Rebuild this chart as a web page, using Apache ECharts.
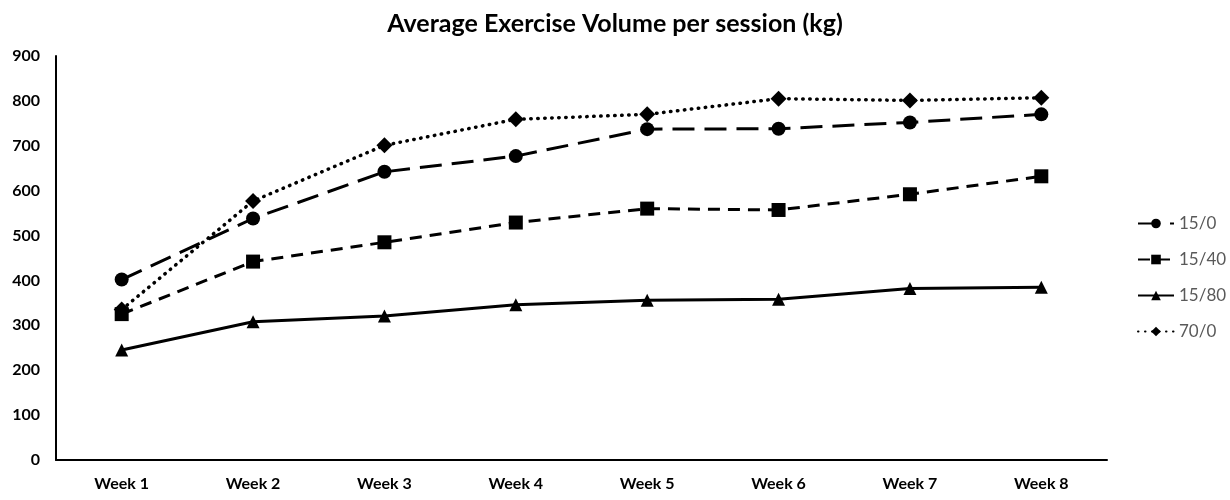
<!DOCTYPE html>
<html><head><meta charset="utf-8">
<script src="https://cdn.jsdelivr.net/npm/echarts@6/dist/echarts.min.js"></script>
<style>html,body{margin:0;padding:0;background:#fff}#c{width:1230px;height:500px}</style>
</head><body><div id="c"></div>
<script>
const categories = ['Week 1','Week 2','Week 3','Week 4','Week 5','Week 6','Week 7','Week 8'];
const s15_0  = [402, 538, 642, 677, 737, 738, 752, 770];
const s15_40 = [325, 442, 485, 529, 560, 557, 592, 632];
const s15_80 = [245, 308, 321, 346, 356, 358, 382, 385];
const s70_0  = [335, 577, 701, 759, 770, 805, 801, 807];
const seriesNames = ['15/0','15/40','15/80','70/0'];

const chart = echarts.init(document.getElementById('c'));
const font = 'Lato, "Open Sans", sans-serif';
function line(name, data, symbol, size, type, cap){
  return {name, type:'line', data, symbol, symbolSize:size, showSymbol:true,
    itemStyle:{color:'#000'},
    lineStyle:{color:'#000', width: cap==='round'?3.5:3, type, cap: cap||'butt'},
    emphasis:{disabled:true}, animation:false, z: 2};
}
chart.setOption({
  backgroundColor:'#fff',
  title:{text:'Average Exercise Volume per session (kg)', left:'center', top:6,
    textStyle:{fontFamily:font, fontSize:25, fontWeight:'bold', color:'#000'}},
  legend:{orient:'vertical', left:1132, top:210, itemGap:19, itemWidth:36, itemHeight:12,
    textStyle:{fontFamily:font, fontSize:17, color:'#595959'}, data:seriesNames},
  grid:{left:56, right:123, top:56, bottom:40, containLabel:false},
  xAxis:{type:'category', data:categories, boundaryGap:true,
    axisLine:{lineStyle:{color:'#000', width:2}}, axisTick:{show:false},
    axisLabel:{fontFamily:font, fontSize:16, fontWeight:'bold', color:'#000', margin:16}},
  yAxis:{type:'value', min:0, max:900, interval:100,
    axisLine:{show:true, lineStyle:{color:'#000', width:2}}, axisTick:{show:false},
    splitLine:{show:false},
    axisLabel:{fontFamily:font, fontSize:16, fontWeight:'bold', color:'#000', margin:16}},
  series:[
    line('15/0', s15_0, 'circle', 14, [22,10]),
    line('15/40', s15_40, 'rect', 14, [12,8]),
    line('15/80', s15_80, 'triangle', 13, 'solid'),
    line('70/0', s70_0, 'diamond', 16, [0.5,6.5], 'round')
  ]
});
</script></body></html>
